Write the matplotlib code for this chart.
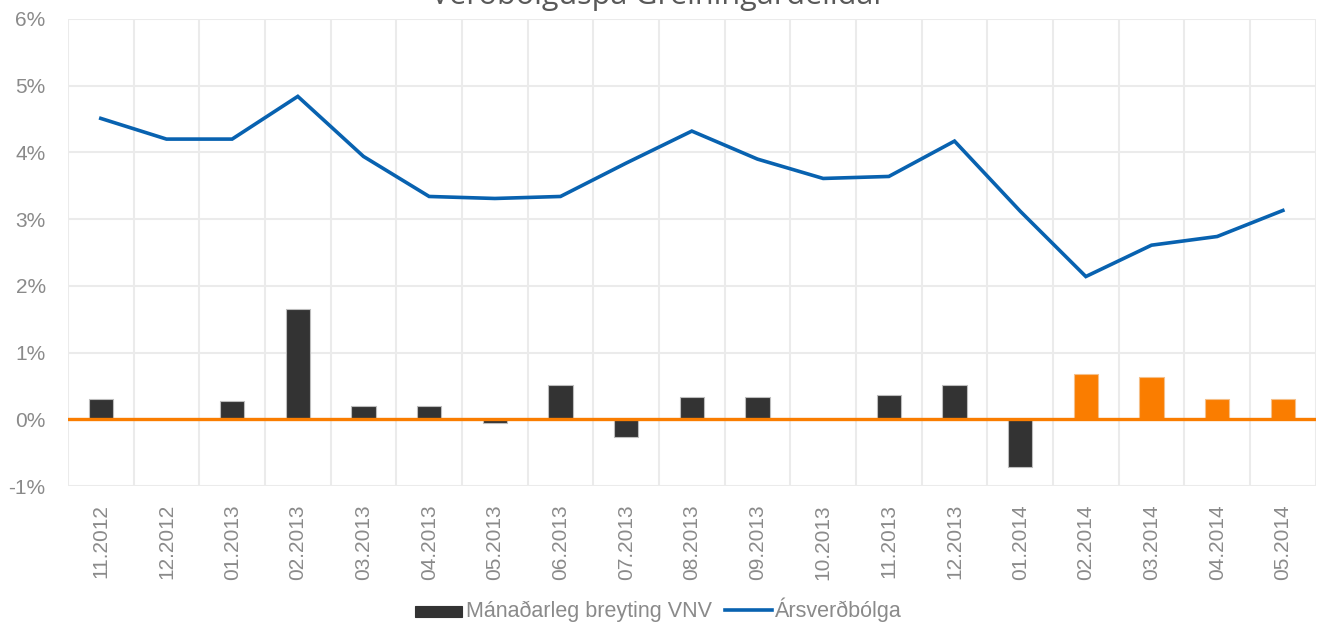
import matplotlib
matplotlib.use('Agg')
import matplotlib.pyplot as plt
import matplotlib.ticker as mticker
import numpy as np

months = ['11.2012', '12.2012', '01.2013', '02.2013', '03.2013', '04.2013',
          '05.2013', '06.2013', '07.2013', '08.2013', '09.2013', '10.2013',
          '11.2013', '12.2013', '01.2014', '02.2014', '03.2014', '04.2014',
          '05.2014']
monthly_change = [0.31, 0.0, 0.28, 1.65, 0.20, 0.20, -0.05, 0.52, -0.26, 0.33,
                  0.33, 0.0, 0.37, 0.52, -0.71, 0.68, 0.63, 0.31, 0.31]
is_forecast = [False] * 15 + [True] * 4
annual_inflation = [4.51, 4.20, 4.20, 4.84, 3.94, 3.34, 3.31, 3.34, 3.84, 4.32,
                    3.90, 3.61, 3.64, 4.17, 3.12, 2.14, 2.61, 2.74, 3.13]

title = 'Verðbólguspá Greiningardeildar'
bar_label = 'Mánaðarleg breyting VNV'
line_label = 'Ársverðbólga'

dark = '#333333'
orange = '#FA7D00'
blue = '#0862B0'
text_gray = '#8A8A8A'

plt.rcParams['font.family'] = ['Liberation Sans', 'DejaVu Sans']

fig = plt.figure(figsize=(13.17, 6.29), dpi=100)
ax = fig.add_axes([0.0516, 0.2273, 0.9474, 0.7425])

x = np.arange(len(months))
colors = [orange if f else dark for f in is_forecast]
edges = ['#F5C08A' if f else '#BDBDBD' for f in is_forecast]
bars = ax.bar(x, monthly_change, width=0.37, color=colors, edgecolor=edges,
              linewidth=0.8, zorder=3, label=bar_label)
ax.axhline(0, color=orange, linewidth=2.4, zorder=4)
ax.plot(x, annual_inflation, color=blue, linewidth=2.6, zorder=5,
        solid_joinstyle='miter', label=line_label)

ax.set_xlim(-0.5, len(months) - 0.5)
ax.set_ylim(-1, 6)
ax.yaxis.set_major_locator(mticker.MultipleLocator(1))
ax.yaxis.set_major_formatter(mticker.FuncFormatter(lambda v, p: f'{v:.0f}%'))
ax.set_xticks(x)
ax.set_xticklabels(months, rotation=90)
ax.set_xticks(np.arange(-0.5, len(months), 1), minor=True)

ax.grid(axis='y', which='major', color='#EBEBEB', linewidth=1.5, zorder=0)
ax.grid(axis='x', which='minor', color='#EBEBEB', linewidth=1.5, zorder=0)
ax.tick_params(axis='both', which='both', length=0)
ax.tick_params(axis='y', pad=16, labelsize=15, labelcolor=text_gray)
ax.tick_params(axis='x', pad=13, labelsize=15, labelcolor=text_gray)
for s in ax.spines.values():
    s.set_visible(False)

fig.text(0.5, 1 - 4 / 629, title, ha='center', va='baseline', fontsize=22,
         color='#595959', family=['Open Sans', 'DejaVu Sans'])

leg = fig.legend(handles=[bars, ax.lines[-1]], labels=[bar_label, line_label],
                 loc='center', bbox_to_anchor=(0.5, 1 - 610 / 629), ncol=2,
                 frameon=False, fontsize=15.5, handlelength=2.2,
                 handletextpad=0.15, columnspacing=0.6)
for t in leg.get_texts():
    t.set_color(text_gray)
leg.legend_handles[0].set_color(dark)
leg.legend_handles[0].set_height(8)

fig.savefig('out.png', dpi=100)
